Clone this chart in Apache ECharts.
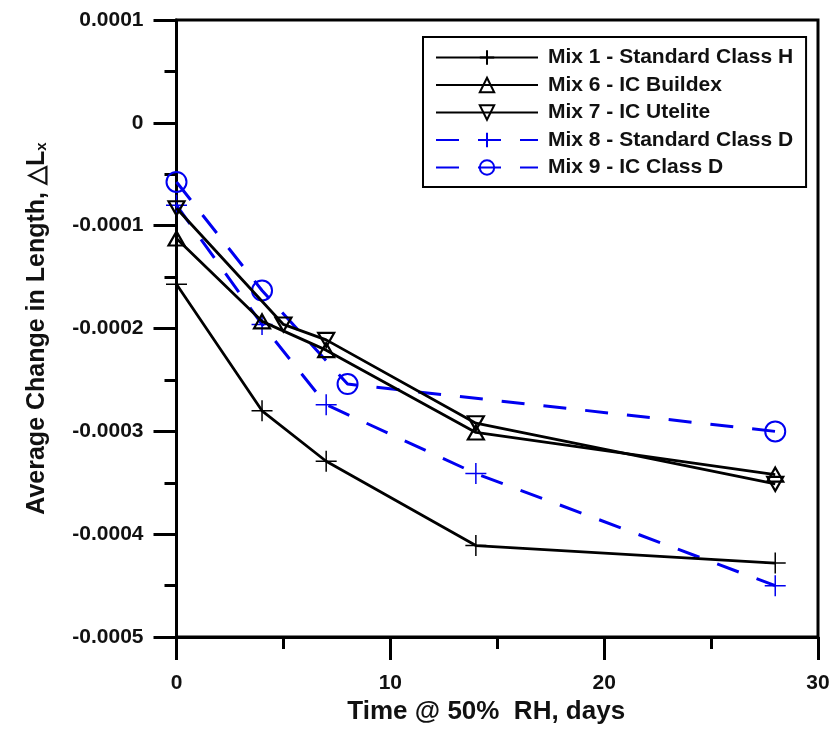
<!DOCTYPE html>
<html>
<head>
<meta charset="utf-8">
<script src="https://cdn.jsdelivr.net/npm/echarts@6/dist/echarts.min.js"></script>
<style>
  html, body { margin: 0; padding: 0; background: #fff; }
  #chart { width: 836px; height: 730px; }
</style>
</head>
<body>
<div id="chart"></div>
<script>
// Drying shrinkage at 50% RH: days vs. average change in length
const mix1Days = [0, 4, 7, 14, 28];
const mix1Strain = [-0.000157, -0.00028, -0.000329, -0.000411, -0.000428];

const mix6Days = [0, 4, 7, 14, 28];
const mix6Strain = [-0.0001125, -0.000193, -0.000221, -0.000301, -0.000342];

const mix7Days = [0, 5, 7, 14, 28];
const mix7Strain = [-0.000083, -0.000196, -0.000211, -0.000292, -0.000351];

const mix8Days = [0, 4, 7, 14, 28];
const mix8Strain = [-0.00008, -0.000196, -0.000274, -0.000341, -0.00045];

const mix9Days = [0, 4, 8, 28];
const mix9Strain = [-0.0000575, -0.000163, -0.000254, -0.0003];

const seriesNames = [
  'Mix 1 - Standard Class H',
  'Mix 6 - IC Buildex',
  'Mix 7 - IC Utelite',
  'Mix 8 - Standard Class D',
  'Mix 9 - IC Class D'
];

const FONT = '"Liberation Sans", Arial, sans-serif';
const BLACK = '#000000';
const BLUE = '#0000f0';
const PLUS = 'path://M10,0L10,20M0,10L20,10';

function pairs(xs, ys) {
  return xs.map((x, i) => [x, ys[i]]);
}

function lineSeries(name, xs, ys, opts) {
  return {
    name: name,
    type: 'line',
    data: pairs(xs, ys),
    symbol: opts.symbol,
    symbolSize: opts.size,
    symbolRotate: opts.rotate || 0,
    showAllSymbol: true,
    lineStyle: { color: opts.color, width: opts.width, type: opts.dash || 'solid' },
    itemStyle: { color: 'none', borderColor: opts.color, borderWidth: opts.border },
    emphasis: { disabled: true },
    z: opts.z
  };
}

const chart = echarts.init(document.getElementById('chart'), null, { renderer: 'canvas' });

chart.setOption({
  animation: false,
  backgroundColor: '#ffffff',
  textStyle: { fontFamily: FONT },
  grid: {
    left: 176.5, top: 20, width: 641.5, height: 622,
    show: true, borderColor: BLACK, borderWidth: 3, backgroundColor: 'transparent'
  },
  legend: {
    orient: 'vertical',
    left: 423, top: 37,
    padding: [10, 13, 9, 12],
    borderColor: BLACK, borderWidth: 2,
    backgroundColor: '#ffffff',
    itemWidth: 102, itemHeight: 18, itemGap: 6.5,
    textStyle: { fontFamily: FONT, fontSize: 21, fontWeight: 'bold', color: '#111', padding: [0, 0, 0, 5] },
    data: seriesNames
  },
  xAxis: {
    type: 'value',
    min: 0, max: 30, interval: 10,
    name: 'Time @ 50%  RH, days',
    nameLocation: 'middle',
    nameGap: 57,
    nameTextStyle: { fontFamily: FONT, fontSize: 26, fontWeight: 'bold', color: '#111', padding: [0, 22, 0, 0] },
    axisLine: { show: true, onZero: false, lineStyle: { color: BLACK, width: 3 } },
    axisTick: { show: true, inside: false, length: 23, lineStyle: { color: BLACK, width: 3 } },
    minorTick: { show: true, splitNumber: 2, length: 12, lineStyle: { color: BLACK, width: 3 } },
    axisLabel: { margin: 36, fontFamily: FONT, fontSize: 21, fontWeight: 'bold', color: '#111' },
    splitLine: { show: false }
  },
  yAxis: {
    type: 'value',
    min: -0.0005, max: 0.0001, interval: 0.0001,
    name: 'Average Change in Length, △L{sub|x}',
    nameLocation: 'middle',
    nameRotate: 90,
    nameGap: 127,
    nameTextStyle: {
      fontFamily: FONT, fontSize: 25, fontWeight: 'bold', color: '#111',
      rich: { sub: { fontFamily: FONT, fontSize: 15, fontWeight: 'bold', color: '#111', verticalAlign: 'bottom', padding: [10, 0, 0, 0] } }
    },
    axisLine: { show: true, onZero: false, lineStyle: { color: BLACK, width: 3 } },
    axisTick: { show: true, inside: false, length: 23, lineStyle: { color: BLACK, width: 3 } },
    minorTick: { show: true, splitNumber: 2, length: 12, lineStyle: { color: BLACK, width: 3 } },
    axisLabel: {
      margin: 33, fontFamily: FONT, fontSize: 21, fontWeight: 'bold', color: '#111',
      formatter: v => (Math.abs(v) < 1e-12 ? '0' : v.toFixed(4))
    },
    splitLine: { show: false }
  },
  series: [
    lineSeries(seriesNames[0], mix1Days, mix1Strain, { symbol: PLUS, size: 21, color: BLACK, width: 2.8, border: 1.5, z: 3 }),
    lineSeries(seriesNames[1], mix6Days, mix6Strain, { symbol: 'triangle', size: [16, 14], color: BLACK, width: 2.8, border: 2.2, z: 4 }),
    lineSeries(seriesNames[2], mix7Days, mix7Strain, { symbol: 'triangle', size: [16, 14], rotate: 180, color: BLACK, width: 2.8, border: 2.2, z: 4 }),
    lineSeries(seriesNames[3], mix8Days, mix8Strain, { symbol: PLUS, size: 21, color: BLUE, width: 3, border: 1.5, dash: [23, 19], z: 2 }),
    lineSeries(seriesNames[4], mix9Days, mix9Strain, { symbol: 'circle', size: 20, color: BLUE, width: 3, border: 2, dash: [23, 19], z: 2 })
  ]
});
</script>
</body>
</html>
